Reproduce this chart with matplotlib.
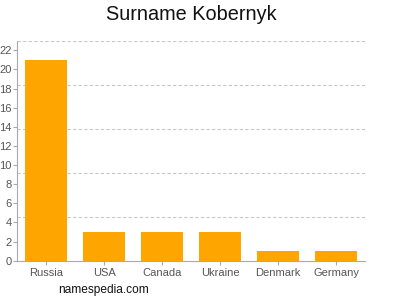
import matplotlib
matplotlib.use("Agg")
import matplotlib.pyplot as plt

plt.rcParams["font.family"] = ["Liberation Sans", "DejaVu Sans"]

countries = ["Russia", "USA", "Canada", "Ukraine", "Denmark", "Germany"]
counts = [21, 3, 3, 3, 1, 1]
y_ticks = list(range(0, 23, 2))
y_top = 23

fig = plt.figure(figsize=(4, 3), dpi=100)
ax = fig.add_axes([0.0425, 0.131, 0.87, 0.733])

x = range(len(countries))
ax.bar(x, counts, width=0.74, color="#FFA500", zorder=3)

ax.set_xlim(-0.5, len(countries) - 0.5)
ax.set_ylim(0, y_top)
ax.set_xticks(list(x))
ax.set_xticklabels(countries)
ax.set_yticks(y_ticks)

# dashed grid at fifths of the axis height
for i in range(1, 6):
    ax.axhline(y_top * i / 5, color="#c8c8c8", linestyle=(0, (3, 2)), linewidth=0.8, zorder=1)

for side in ["top", "right"]:
    ax.spines[side].set_visible(False)
for side in ["left", "bottom"]:
    ax.spines[side].set_color("#aaaaaa")
    ax.spines[side].set_linewidth(0.8)

ax.tick_params(axis="both", colors="#aaaaaa", labelcolor="#555555", labelsize=8, length=3, width=0.8)
ax.tick_params(axis="y", pad=1)
ax.tick_params(axis="x", pad=2.5)

fig.text(0.4775, 0.953, "Surname Kobernyk", ha="center", va="center", fontsize=14.3, color="#111111")
fig.text(0.145, 0.033, "namespedia.com", ha="left", va="center", fontsize=8.6, color="#111111")

fig.savefig("out.png", dpi=100)
